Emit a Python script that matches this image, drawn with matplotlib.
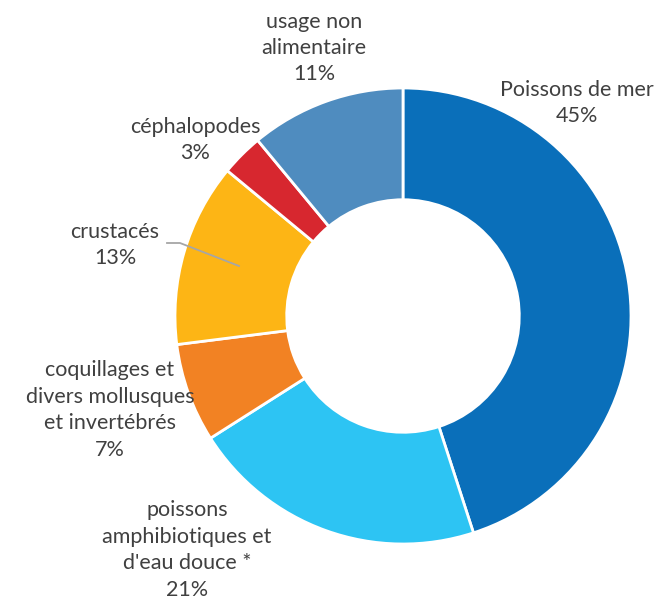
import matplotlib.pyplot as plt

categories = ['Poissons de mer', "poissons\namphibiotiques et\nd'eau douce *",
              'coquillages et\ndivers mollusques\net invertébrés', 'crustacés',
              'céphalopodes', 'usage non\nalimentaire']
shares = [45, 21, 7, 13, 3, 11]
colors = ['#0A6FBA', '#2DC4F3', '#F28223', '#FDB515', '#D7272F', '#4F8CBF']
# label centres in pixel coords
label_pos = [(577, 103), (187, 550), (110, 410), (115, 245), (195, 140), (314, 48)]

fig = plt.figure(figsize=(6.59, 6.05), dpi=100)
ax = fig.add_axes([0, 0, 1, 1])

cx, cy, r = 403, 316, 228
# y axis gets inverted below, so startangle -90 is the top and
# counterclock in data runs clockwise on screen
ax.pie(shares, colors=colors, startangle=-90, counterclock=True, center=(cx, cy), radius=r,
       wedgeprops=dict(width=r * 0.49, edgecolor='white', linewidth=2.0))
ax.set_xlim(0, 659)
ax.set_ylim(605, 0)
ax.set_aspect('equal')
ax.axis('off')

for name, v, (x, y) in zip(categories, shares, label_pos):
    ax.text(x, y, f'{name}\n{v}%', ha='center', va='center', fontsize=15.5,
            family='Lato', color='#404040', linespacing=1.4)

ax.plot([167, 180, 239], [243, 243, 266], color='#A6A6A6', lw=1.3)

fig.savefig('out.png', dpi=100)
